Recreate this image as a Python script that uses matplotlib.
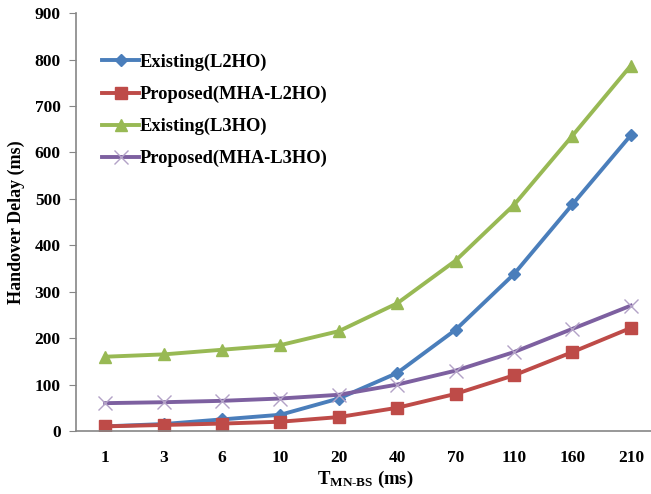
import matplotlib
matplotlib.use("Agg")
import matplotlib.pyplot as plt

categories = ["1", "3", "6", "10", "20", "40", "70", "110", "160", "210"]
existing_l2ho = [10, 15, 25, 35, 70, 125, 218, 338, 488, 637]
proposed_l2ho = [10, 13, 16, 20, 30, 50, 80, 120, 170, 222]
existing_l3ho = [160, 165, 175, 185, 215, 275, 367, 487, 636, 787]
proposed_l3ho = [60, 62, 65, 70, 78, 100, 130, 170, 220, 270]
yticks = [0, 100, 200, 300, 400, 500, 600, 700, 800, 900]

plt.rcParams['font.family'] = ['Liberation Serif', 'DejaVu Serif']
plt.rcParams['font.weight'] = 'bold'
plt.rcParams['mathtext.fontset'] = 'custom'
plt.rcParams['mathtext.rm'] = 'Liberation Serif:bold'
plt.rcParams['mathtext.bf'] = 'Liberation Serif:bold'
plt.rcParams['mathtext.it'] = 'Liberation Serif:bold'

fig = plt.figure(figsize=(6.51, 4.94), dpi=100)
ax = fig.add_axes([0.1167, 0.1275, 0.89, 0.846])
x = list(range(len(categories)))

ax.plot(x, existing_l2ho, color='#4A7EBB', lw=2.8, marker='D', ms=6, label='Existing(L2HO)')
ax.plot(x, proposed_l2ho, color='#BE4B48', lw=2.8, marker='s', ms=8, label='Proposed(MHA-L2HO)')
ax.plot(x, existing_l3ho, color='#98B954', lw=2.8, marker='^', ms=9, label='Existing(L3HO)')
ax.plot(x, proposed_l3ho, color='#7D60A0', lw=2.8, marker='x', ms=10, mew=1.0,
        mec='#B3A2C7', label='Proposed(MHA-L3HO)')

ax.set_xlim(-0.5, 9.42)
ax.set_ylim(0, 900)
ax.set_yticks(yticks)
ax.set_xticks(x)
ax.set_xticklabels(categories)
ax.tick_params(axis='y', length=5, color='#868686', labelsize=12.5, pad=6)
ax.tick_params(axis='x', length=0, labelsize=12.5, pad=14)
for s in ['top', 'right']:
    ax.spines[s].set_visible(False)
for s in ['left', 'bottom']:
    ax.spines[s].set_color('#868686')
    ax.spines[s].set_linewidth(1.2)

ax.set_ylabel('Handover Delay (ms)', fontsize=13, fontweight='bold', labelpad=7)
ax.set_xlabel(r'$\mathrm{T}_{\text{MN-BS}}$ (ms)', fontsize=13.5, fontweight='bold', labelpad=2)

leg = ax.legend(loc='upper left', bbox_to_anchor=(0.045, 0.903), frameon=False,
                borderpad=0, borderaxespad=0,
                fontsize=13.3, handlelength=2.0, handletextpad=0.05, labelspacing=0.8)

fig.savefig('out.png', dpi=100)
